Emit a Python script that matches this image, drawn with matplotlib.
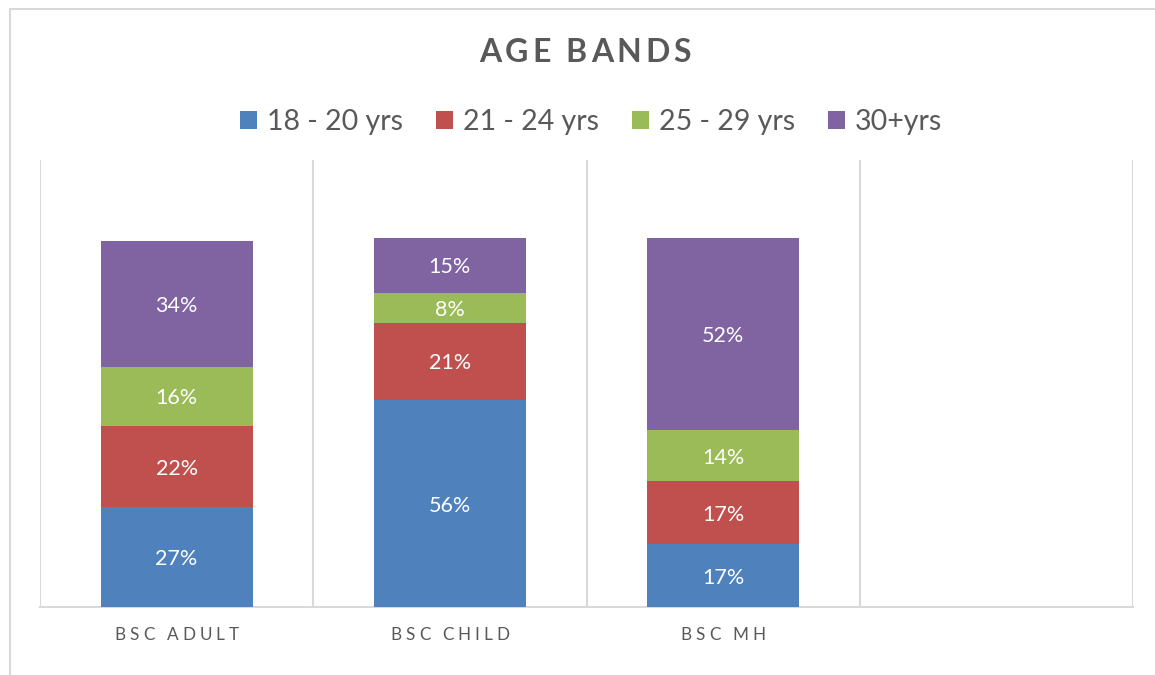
import matplotlib
matplotlib.use("Agg")
import matplotlib.pyplot as plt
from matplotlib.patches import Patch, Rectangle
from matplotlib.font_manager import FontProperties
import numpy as np

plt.rcParams['font.family'] = ['Lato', 'DejaVu Sans']

categories = ["BSC ADULT", "BSC CHILD", "BSC MH", ""]
series_names = ["18 - 20 yrs", "21 - 24 yrs", "25 - 29 yrs", "30+yrs"]
age_18_20 = [27, 56, 17, 0]
age_21_24 = [22, 21, 17, 0]
age_25_29 = [16, 8, 14, 0]
age_30_plus = [34, 15, 52, 0]
series_values = [age_18_20, age_21_24, age_25_29, age_30_plus]
colors = ["#4F81BD", "#C0504D", "#9BBB59", "#8064A2"]
text_color = "#595959"
grid_color = "#D9D9D9"

W, H = 1155, 675
fig = plt.figure(figsize=(W / 100, H / 100), dpi=100)
fig.patch.set_facecolor("white")

# chart border (extends past the right and bottom edges)
fig.add_artist(Rectangle((10 / W, -0.05), 1.2, 1 - 9 / H + 0.05,
                         transform=fig.transFigure, fill=False,
                         edgecolor=grid_color, linewidth=1.5))

ax = fig.add_axes([40 / W, 1 - 607 / H, (1133 - 40) / W, (607 - 160) / H])
x = np.arange(len(categories))
bottom = np.zeros(len(categories))
for name, vals, col in zip(series_names, series_values, colors):
    vals = np.array(vals, dtype=float)
    ax.bar(x, vals, width=0.557, bottom=bottom, color=col, label=name,
           zorder=3)
    for xi, v, b in zip(x, vals, bottom):
        if v > 0:
            ax.text(xi, b + v / 2, f"{v:.0f}%", ha="center",
                    va="center_baseline", color="white", fontsize=15.5,
                    zorder=4)
    bottom += vals

ax.set_xlim(-0.5, len(categories) - 0.5)
ax.set_ylim(0, 121)
ax.set_yticks([])
ax.set_xticks([])
for s in ["top", "left", "right"]:
    ax.spines[s].set_visible(False)
ax.spines["bottom"].set_color(grid_color)
ax.spines["bottom"].set_linewidth(1.5)
for b in np.arange(-0.5, len(categories), 1.0):
    ax.axvline(b, color=grid_color, linewidth=1.5, zorder=1)

renderer = fig.canvas.get_renderer()


def spaced_text(s, cx_px, cy_px, spacing_px, **kw):
    fp = FontProperties(family=plt.rcParams['font.family'],
                        size=kw.get("fontsize"), weight=kw.get("weight", "normal"))
    widths = [renderer.get_text_width_height_descent(ch, fp, ismath=False)[0]
              for ch in s]
    total = sum(widths) + spacing_px * (len(s) - 1)
    xpos = cx_px - total / 2
    for ch, w in zip(s, widths):
        fig.text(xpos / W, 1 - cy_px / H, ch, ha="left", va="center",
                 fontproperties=fp, color=kw.get("color", text_color))
        xpos += w + spacing_px


spaced_text("AGE BANDS", 585, 53, 3.8, fontsize=23, weight="bold",
            color=text_color)

# category labels
ax_left = 40
slot = (1133 - 40) / len(categories)
for i, c in enumerate(categories):
    if c:
        spaced_text(c, ax_left + slot * (i + 0.5), 635, 3.9, fontsize=12.3,
                    color=text_color)

handles = [Patch(facecolor=c, edgecolor="none") for c in colors]
leg = fig.legend(handles, series_names, loc="center",
                 bbox_to_anchor=(591 / W, 1 - 122 / H), ncol=4, frameon=False,
                 fontsize=20.5, handlelength=0.6, handleheight=0.6,
                 handletextpad=0.35, columnspacing=1.15, labelcolor=text_color)

fig.savefig("out.png", dpi=100, facecolor="white")
